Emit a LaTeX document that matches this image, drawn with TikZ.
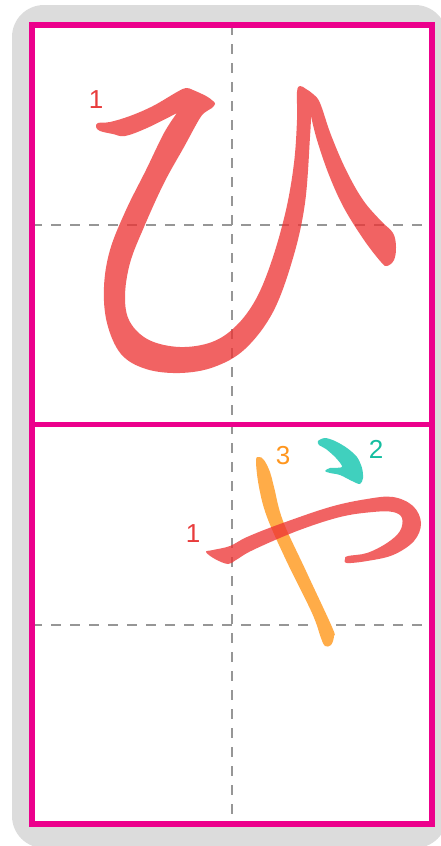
\documentclass[tikz,border=0pt]{standalone}
\usepackage{fontspec}
\setmainfont{Liberation Sans}
\begin{document}
\begin{tikzpicture}[x=1pt,y=-1pt,
  framecol/.style={draw=magentaframe,line width=5.5pt},
  guide/.style={draw=guidegray,line width=1.3pt,dash pattern=on 9.5pt off 9.5pt},
  redstroke/.style={fill=strokered,fill opacity=0.76},
  orangestroke/.style={fill=strokeorange},
  tealstroke/.style={fill=stroketeal},
  numlabel/.style={inner sep=0pt,font=\fontsize{26}{26}\selectfont}]
\definecolor{magentaframe}{RGB}{236,0,140}
\definecolor{guidegray}{RGB}{150,150,150}
\definecolor{bggray}{RGB}{220,220,220}
\definecolor{strokered}{RGB}{237,51,51}
\definecolor{strokeorange}{RGB}{255,172,72}
\definecolor{stroketeal}{RGB}{64,208,190}
\definecolor{labelred}{RGB}{232,60,60}
\definecolor{labelorange}{RGB}{255,150,30}
\definecolor{labelteal}{RGB}{20,190,160}
\useasboundingbox (0,0) rectangle (441,846);
% background
\begin{scope}
\clip (0,0) rectangle (441,846);
\fill[bggray,rounded corners=32pt] (12,5) rectangle (447,848);
\end{scope}
\fill[white] (32,25) rectangle (432,824);
% guides
\draw[guide] (232,25) -- (232,824);
\draw[guide] (32,225) -- (432,225);
\draw[guide] (32,625) -- (432,625);
% frame
\draw[framecol] (32,25) rectangle (432,824);
\draw[framecol] (32,424.5) -- (432,424.5);
% hiragana hi
\fill[redstroke] plot[smooth, tension=0.6] coordinates {(177,113) (147,128) (125,136) (113,134) (100,131) (96,127) (98,123) (110,122) (130,116) (153,106) (177,92) (186,88) (193,90) (206,96) (213,101) (215,104) (212,108) (207,111) (200,118) (184,147) (164,183) (144,227) (130,263) (125,297) (130,322) (149,340) (180,347) (212,342) (236,326) (256,299) (272,260) (286,210) (294,163) (297,120) (297,92) (300,86) (306,89) (313,94) (320,103) (331,135) (346,170) (363,200) (381,221) (393,233) (396,247) (394,260) (387,266) (381,262) (364,240) (344,208) (329,175) (317,140) (311,116)}
  -- plot[smooth, tension=0.6] coordinates {(311,116) (310,137) (305,203) (293,258) (273,312) (245,349) (214,367) (180,373) (146,369) (121,354) (107,323) (104,287) (110,250) (126,210) (146,170) (164,133) (177,113)} -- cycle;
% hiragana ya
\fill[orangestroke] plot[smooth cycle, tension=0.6] coordinates {(256,461) (259,487) (267,517) (286,560) (312,613) (321,638) (325,646) (331,645) (334,636) (332,627) (306,571) (283,521) (274,487) (270,472) (264,460) (259,457)};
\fill[tealstroke] plot[smooth cycle, tension=0.5] coordinates {(318,441) (325,438) (335,441) (347,448) (357,457) (362,468) (363,478) (360,484) (352,481) (340,475) (330,473) (325,471) (330,468) (342,467) (336,458) (326,449) (319,445)};
\fill[redstroke] plot[smooth cycle, tension=0.6] coordinates {(206,552) (213,550) (230,546) (247,537) (280,524) (330,507) (367,499) (393,497) (413,506) (421,523) (414,541) (393,555) (367,561) (347,563) (345,559) (348,556) (367,553) (387,543) (400,531) (402,518) (393,512) (373,512) (340,517) (297,531) (253,550) (236,560) (228,564) (215,559)};
% labels
\node[numlabel,text=labelred] (l1) at (96,100) {1};
\node[numlabel,text=labelorange] (l3) at (283,456) {3};
\node[numlabel,text=labelteal] (l2) at (376,449) {2};
\node[numlabel,text=labelred] (l1b) at (193,533.5) {1};
\end{tikzpicture}
\end{document}
